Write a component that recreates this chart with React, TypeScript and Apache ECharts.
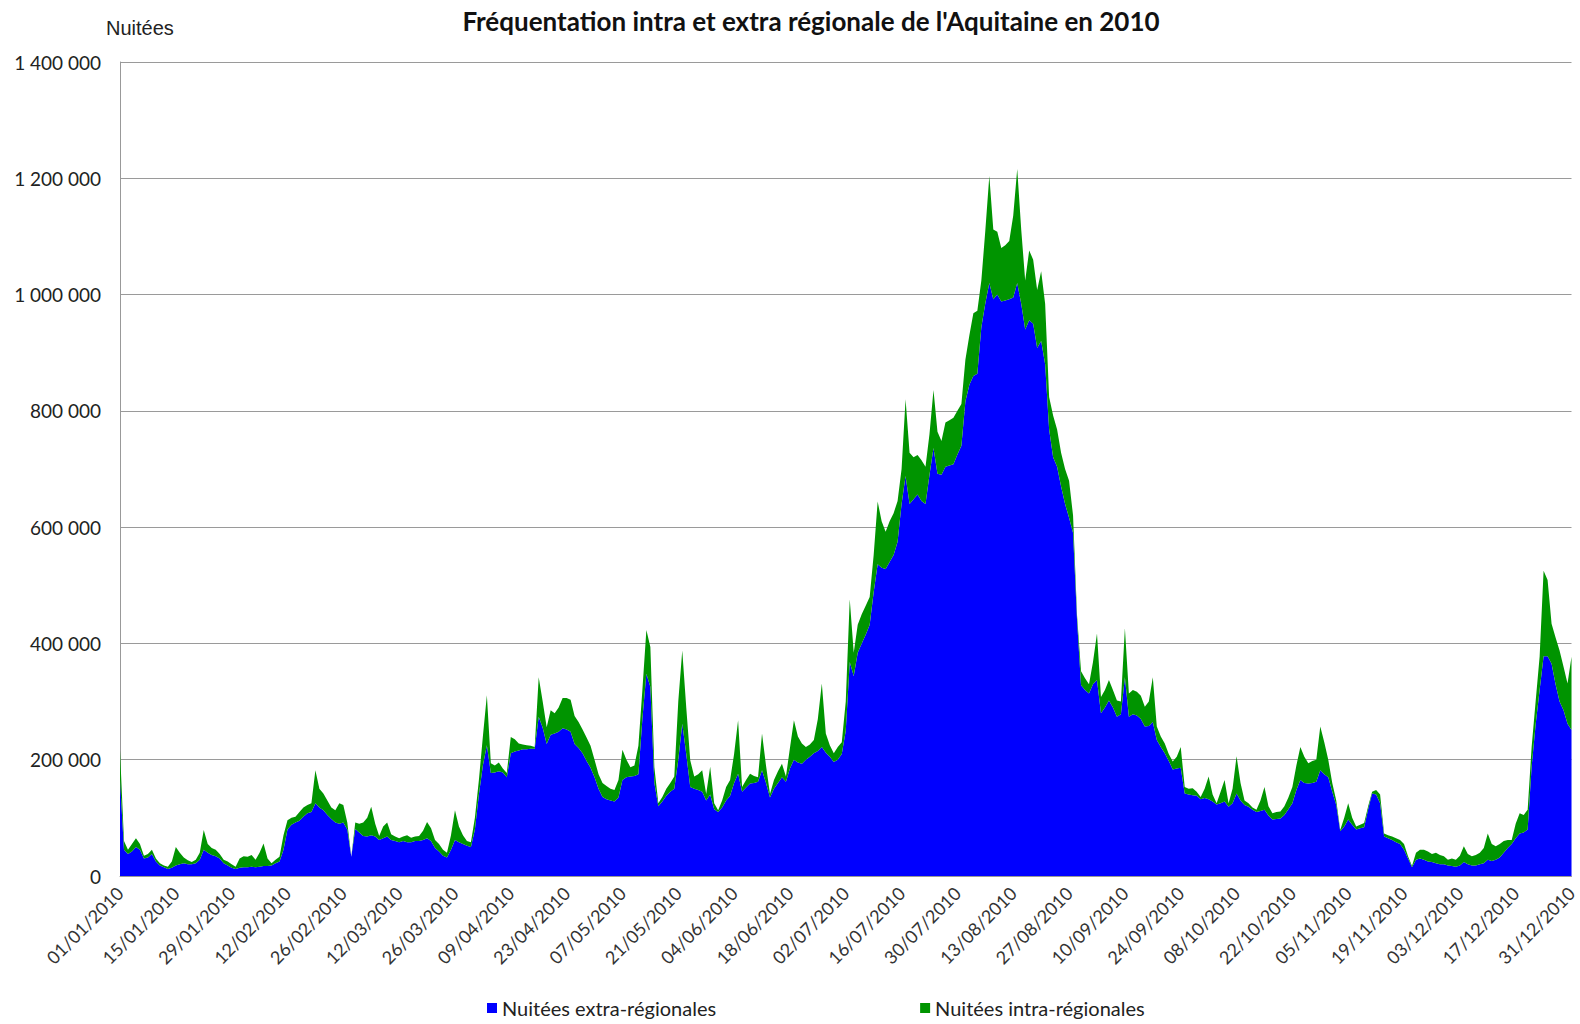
import { useEffect, useRef } from "react";
import * as echarts from "echarts";

const YEAR = 2010;
const SERIES_NAMES = ["Nuitées extra-régionales", "Nuitées intra-régionales"];
const TITLE = "Fréquentation intra et extra régionale de l'Aquitaine en 2010";
const Y_NAME = "Nuitées";

// Daily dates of 2010 (category labels dd/mm/yyyy)
const categories: string[] = (() => {
  const out: string[] = [];
  const d = new Date(Date.UTC(YEAR, 0, 1));
  while (d.getUTCFullYear() === YEAR) {
    const dd = String(d.getUTCDate()).padStart(2, "0");
    const mm = String(d.getUTCMonth() + 1).padStart(2, "0");
    out.push(`${dd}/${mm}/${YEAR}`);
    d.setUTCDate(d.getUTCDate() + 1);
  }
  return out;
})();

// Values in thousands of nights, one per day
const extraRegional = [
  165, 45, 38, 42, 50, 45, 30, 32, 38, 25,
  18, 15, 12, 14, 18, 20, 22, 20, 20, 22,
  28, 45, 40, 36, 34, 30, 22, 18, 14, 12,
  14, 15, 15, 16, 15, 16, 17, 17, 18, 22,
  25, 45, 80, 88, 92, 95, 102, 108, 110, 125,
  118, 113, 105, 98, 92, 90, 92, 80, 33, 81,
  75, 69, 68, 70, 68, 62, 65, 68, 62, 60,
  58, 60, 58, 58, 60, 60, 62, 65, 60, 48,
  42, 35, 32, 45, 62, 58, 55, 52, 50, 80,
  140, 190, 225, 177, 178, 180, 178, 170, 211, 214,
  216, 218, 218, 219, 219, 274, 255, 227, 243, 245,
  248, 254, 252, 248, 227, 220, 211, 198, 186, 170,
  150, 136, 132, 130, 128, 135, 165, 170, 171, 172,
  175, 270, 348, 325, 160, 120, 128, 138, 145, 150,
  200, 262, 210, 153, 150, 148, 145, 130, 140, 115,
  110, 118, 130, 138, 160, 176, 145, 152, 159, 160,
  162, 182, 160, 135, 150, 160, 170, 162, 185, 200,
  195, 193, 200, 205, 211, 215, 222, 212, 205, 196,
  200, 210, 250, 368, 344, 384, 400, 415, 432, 488,
  536, 530, 528, 540, 552, 575, 640, 688, 640, 648,
  656, 645, 640, 690, 736, 692, 690, 704, 706, 708,
  725, 740, 816, 845, 860, 864, 944, 985, 1020, 992,
  1000, 988, 990, 992, 995, 1020, 984, 940, 956, 950,
  908, 920, 880, 768, 720, 704, 670, 640, 616, 590,
  440, 328, 320, 314, 330, 337, 280, 290, 302, 290,
  274, 278, 342, 274, 278, 276, 270, 257, 258, 265,
  234, 222, 211, 198, 183, 185, 186, 142, 140, 139,
  138, 132, 134, 132, 128, 123, 125, 128, 119, 125,
  142, 130, 122, 119, 114, 110, 112, 114, 104, 97,
  98, 99, 105, 115, 125, 148, 165, 160, 159, 160,
  162, 182, 175, 170, 145, 122, 77, 85, 97, 88,
  80, 82, 84, 115, 142, 140, 125, 68, 65, 62,
  58, 55, 45, 30, 15, 28, 30, 28, 25, 24,
  22, 20, 20, 18, 17, 16, 18, 24, 20, 18,
  18, 20, 22, 28, 26, 28, 32, 40, 48, 55,
  65, 73, 75, 80, 188, 260, 320, 378, 378, 365,
  330, 300, 285, 262, 251,
];

const intraRegional = [
  51, 15, 7, 13, 15, 10, 5, 6, 7, 5,
  4, 3, 4, 11, 32, 20, 10, 7, 4, 6,
  12, 34, 15, 12, 11, 8, 6, 7, 6, 4,
  16, 19, 18, 20, 13, 24, 39, 13, 4, 6,
  8, 25, 16, 12, 10, 15, 16, 14, 15, 57,
  32, 29, 25, 20, 21, 35, 30, 12, 0, 11,
  15, 23, 32, 49, 22, 7, 20, 24, 10, 8,
  7, 8, 12, 8, 8, 9, 16, 28, 22, 14,
  13, 10, 8, 25, 51, 27, 15, 8, 8, 20,
  25, 50, 86, 17, 12, 15, 7, 7, 28, 21,
  12, 8, 7, 5, 3, 68, 45, 29, 42, 35,
  42, 52, 54, 55, 48, 45, 41, 40, 38, 30,
  25, 24, 23, 20, 20, 30, 52, 30, 16, 18,
  49, 50, 75, 69, 27, 5, 8, 12, 15, 21,
  100, 126, 80, 46, 21, 27, 37, 11, 48, 10,
  3, 12, 23, 27, 50, 92, 8, 13, 17, 12,
  8, 63, 30, 6, 15, 20, 23, 9, 35, 68,
  45, 35, 22, 21, 23, 55, 109, 33, 20, 15,
  22, 20, 50, 108, 40, 48, 50, 50, 48, 64,
  108, 80, 64, 70, 72, 70, 60, 132, 88, 72,
  68, 70, 64, 70, 100, 72, 58, 76, 78, 80,
  75, 72, 72, 85, 108, 108, 80, 125, 184, 120,
  108, 92, 95, 100, 141, 196, 128, 84, 120, 110,
  100, 120, 104, 56, 72, 64, 58, 60, 64, 30,
  8, 24, 20, 16, 38, 80, 28, 30, 35, 30,
  28, 22, 84, 40, 42, 41, 40, 34, 42, 77,
  23, 18, 17, 12, 14, 20, 36, 11, 10, 12,
  7, 4, 16, 39, 12, 2, 20, 37, 6, 25,
  64, 30, 8, 6, 4, 4, 18, 39, 16, 11,
  12, 12, 15, 20, 28, 42, 57, 45, 35, 38,
  38, 75, 55, 30, 15, 8, 2, 15, 28, 12,
  5, 6, 7, 5, 3, 8, 15, 5, 5, 6,
  7, 7, 10, 4, 2, 12, 15, 17, 17, 14,
  18, 16, 14, 10, 13, 12, 17, 27, 18, 16,
  18, 20, 26, 45, 29, 23, 23, 20, 14, 7,
  25, 35, 30, 34, 34, 40, 57, 147, 131, 69,
  80, 88, 75, 69, 126,
];

const Y_MAX = 1400000;
const Y_STEP = 200000;
const BLUE = "#0000ff";
const GREEN = "#009400";

const fmt = (v: number) => String(v).replace(/\B(?=(\d{3})+(?!\d))/g, " ");

export default function App() {
  const ref = useRef<HTMLDivElement>(null);
  useEffect(() => {
    const chart = echarts.init(ref.current!, null, { renderer: "svg" });
    chart.setOption({
      animation: false,
      backgroundColor: "#ffffff",
      title: [
        {
          text: TITLE,
          left: 806,
          textAlign: "center",
          top: 3,
          textStyle: { fontFamily: "Lato", fontWeight: "bold", fontSize: 26, color: "#111" },
        },
        {
          text: Y_NAME,
          left: 101,
          top: 13,
          textStyle: { fontFamily: "Liberation Sans", fontWeight: "normal", fontSize: 20, color: "#222" },
        },
      ],
      legend: {
        top: 993,
        left: 482,
        itemGap: 204,
        itemWidth: 10,
        itemHeight: 10,
        icon: "rect",
        textStyle: { fontFamily: "Lato", fontSize: 20, color: "#222" },
        data: SERIES_NAMES,
      },
      grid: { left: 120, right: 8, top: 62, bottom: 148, containLabel: false },
      xAxis: {
        type: "category",
        data: categories,
        boundaryGap: false,
        axisLine: { show: true, lineStyle: { color: "#999" } },
        axisTick: { show: false },
        axisLabel: {
          interval: 13,
          rotate: 45,
          margin: 14,
          fontFamily: "Lato",
          fontSize: 18,
          color: "#333",
        },
      },
      yAxis: {
        type: "value",
        min: 0,
        max: Y_MAX,
        interval: Y_STEP,
        axisLine: { show: true, lineStyle: { color: "#999" } },
        axisTick: { show: false },
        splitLine: { show: true, lineStyle: { color: "#9a9a9a", width: 1 } },
        axisLabel: {
          margin: 19,
          fontFamily: "Lato",
          fontSize: 19,
          color: "#222",
          formatter: (v: number) => fmt(v),
        },
      },
      series: [
        {
          name: SERIES_NAMES[0],
          type: "line",
          stack: "total",
          symbol: "none",
          lineStyle: { width: 0 },
          areaStyle: { color: BLUE, opacity: 1 },
          itemStyle: { color: BLUE },
          data: extraRegional.map((v) => v * 1000),
        },
        {
          name: SERIES_NAMES[1],
          type: "line",
          stack: "total",
          symbol: "none",
          lineStyle: { width: 0 },
          areaStyle: { color: GREEN, opacity: 1 },
          itemStyle: { color: GREEN },
          data: intraRegional.map((v) => v * 1000),
        },
      ],
    });
    return () => chart.dispose();
  }, []);
  return (
    <div
      ref={ref}
      style={{ position: "fixed", left: 0, top: 0, width: 1580, height: 1024, background: "#fff" }}
    />
  );
}
